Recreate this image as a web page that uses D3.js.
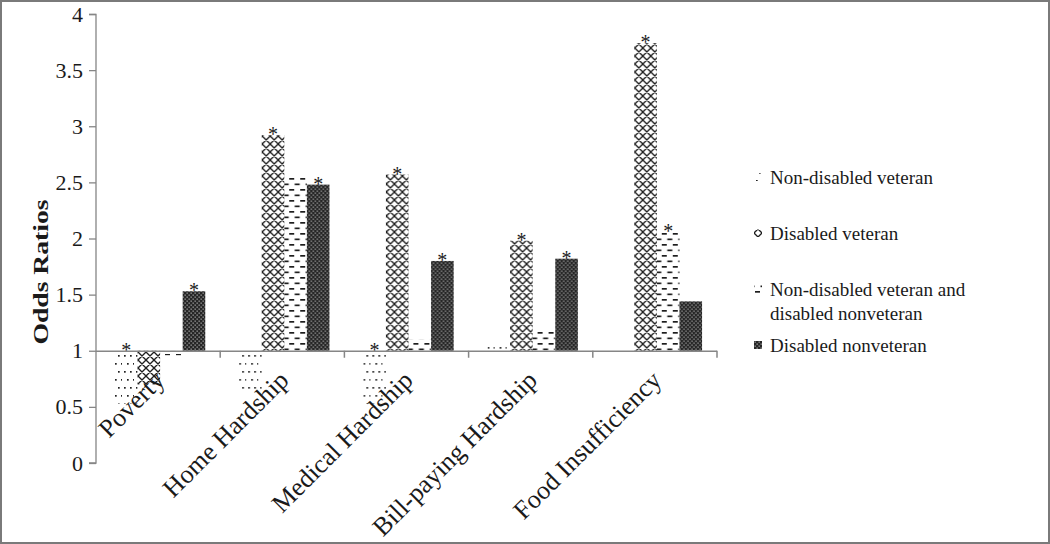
<!DOCTYPE html>
<html><head><meta charset="utf-8">
<script src="https://cdn.jsdelivr.net/npm/d3@7"></script>
<style>html,body{margin:0;padding:0;background:#fff;}svg{display:block;}</style>
</head><body>
<svg id="chart" width="1050" height="544"></svg>
<script>
const categories = ["Poverty", "Home Hardship", "Medical Hardship", "Bill-paying Hardship", "Food Insufficiency"];
const seriesNames = ["Non-disabled veteran", "Disabled veteran", "Non-disabled veteran and disabled nonveteran", "Disabled nonveteran"];
const legendLines = [["Non-disabled veteran"], ["Disabled veteran"], ["Non-disabled veteran and", "disabled nonveteran"], ["Disabled nonveteran"]];
const nonDisabledVeteran = [0.53, 0.66, 0.53, 1.07, 1.0];
const disabledVeteran = [0.70, 2.92, 2.57, 1.98, 3.74];
const nonDisVetDisNonvet = [0.96, 2.55, 1.10, 1.19, 2.06];
const disabledNonveteran = [1.53, 2.48, 1.80, 1.82, 1.44];
const significant = [
  [true, false, true, false, false],
  [false, true, true, true, true],
  [false, false, false, false, true],
  [true, true, true, true, false]
];
const yTicks = [0, 0.5, 1, 1.5, 2, 2.5, 3, 3.5, 4];
const baseline = 1;
const seriesValues = [nonDisabledVeteran, disabledVeteran, nonDisVetDisNonvet, disabledNonveteran];
const patternIds = ["pDots", "pCross", "pDash", "pDark"];

const svg = d3.select("#chart");
const FONT = "'Liberation Serif', 'Times New Roman', serif";
const TXT = "#1a1a1a";
const AX = "#868686";

// frame
svg.append("rect").attr("x", 1).attr("y", 1).attr("width", 1048).attr("height", 542)
  .attr("fill", "#fff").attr("stroke", "#7a7a7a").attr("stroke-width", 2);

// patterns
const defs = svg.append("defs");
const p1 = defs.append("pattern").attr("id", "pDots").attr("patternUnits", "userSpaceOnUse").attr("width", 12).attr("height", 16);
[[2,3],[8,3],[5,11],[11,11]].forEach(d => p1.append("rect").attr("x", d[0]).attr("y", d[1]).attr("width", 1.7).attr("height", 1.7).attr("fill", "#222"));
const p2 = defs.append("pattern").attr("id", "pCross").attr("patternUnits", "userSpaceOnUse").attr("width", 8).attr("height", 8);
p2.append("path").attr("d", "M0,0L8,8M8,0L0,8M-1,7L1,9M7,-1L9,1M-1,1L1,-1M7,9L9,7").attr("stroke", "#1e1e1e").attr("stroke-width", 1.35).attr("fill", "none");
const p3 = defs.append("pattern").attr("id", "pDash").attr("patternUnits", "userSpaceOnUse").attr("width", 11).attr("height", 11);
p3.append("rect").attr("x", 1).attr("y", 2).attr("width", 5).attr("height", 1.7).attr("fill", "#1e1e1e");
p3.append("rect").attr("x", 6.5).attr("y", 7.5).attr("width", 5).attr("height", 1.7).attr("fill", "#1e1e1e");
p3.append("rect").attr("x", -4.5).attr("y", 7.5).attr("width", 5).attr("height", 1.7).attr("fill", "#1e1e1e");
const p4 = defs.append("pattern").attr("id", "pDark").attr("patternUnits", "userSpaceOnUse").attr("width", 4).attr("height", 4);
p4.append("rect").attr("width", 4).attr("height", 4).attr("fill", "#262626");
p4.append("rect").attr("x", 0.5).attr("y", 0.5).attr("width", 1.3).attr("height", 1.3).attr("fill", "#a0a0a0");
p4.append("rect").attr("x", 2.5).attr("y", 2.5).attr("width", 1.3).attr("height", 1.3).attr("fill", "#a0a0a0");

// scales
const y = d3.scaleLinear().domain([0, 4]).range([463, 14]);
const x0 = d3.scaleBand().domain(categories).range([96, 717]).paddingInner(0).paddingOuter(0);
const x1 = d3.scaleBand().domain(d3.range(seriesNames.length)).range([0, x0.bandwidth()]).paddingInner(0).paddingOuter(0.75);
const shift = 2;

// y axis
const yAxis = d3.axisLeft(y).tickValues(yTicks).tickSize(7).tickPadding(6).tickFormat(d3.format("~g"));
const gy = svg.append("g").attr("transform", "translate(96,0)").call(yAxis);
gy.select(".domain").attr("stroke", AX).attr("stroke-width", 1.3).attr("d", "M-7,14.5H0V463H-7");
gy.selectAll(".tick line").attr("stroke", AX).attr("stroke-width", 1.3);
gy.selectAll(".tick text").attr("font-family", FONT).attr("font-size", 22).attr("fill", TXT);

// y label
svg.append("text").attr("transform", "translate(41,272) rotate(-90)").attr("text-anchor", "middle")
  .attr("dominant-baseline", "central")
  .attr("font-family", FONT).attr("font-weight", "bold").attr("font-size", 20).attr("fill", TXT)
  .attr("textLength", 145).attr("lengthAdjust", "spacingAndGlyphs")
  .text("Odds Ratios");

// bars
const groups = svg.append("g").selectAll("g").data(categories).join("g")
  .attr("transform", c => `translate(${x0(c) + shift},0)`);
seriesValues.forEach((vals, si) => {
  groups.append("rect")
    .attr("x", x1(si))
    .attr("width", x1.bandwidth())
    .attr("y", (c, ci) => y(Math.max(vals[ci], baseline)))
    .attr("height", (c, ci) => Math.abs(y(vals[ci]) - y(baseline)))
    .attr("fill", `url(#${patternIds[si]})`);
  groups.filter((c, ci) => significant[si][ci]).append("text")
    .attr("x", x1(si) + x1.bandwidth() / 2)
    .attr("y", (c) => y(Math.max(vals[categories.indexOf(c)], baseline)) + 6)
    .attr("text-anchor", "middle").attr("font-family", FONT).attr("font-size", 20).attr("fill", TXT)
    .text("*");
});

// x axis at baseline
const xAxis = d3.axisBottom(x0).tickSize(0).tickFormat("");
const gx = svg.append("g").attr("transform", `translate(0,${y(baseline)})`).call(xAxis);
gx.select(".domain").attr("stroke", AX).attr("stroke-width", 1.5).attr("d", "M96,0.5H717");
gx.selectAll(".tick").remove();
const boundaries = categories.map(c => x0(c) + x0.bandwidth());
gx.selectAll("line.bt").data(boundaries).join("line").attr("class", "bt")
  .attr("x1", d => d).attr("x2", d => d).attr("y1", 0).attr("y2", 7)
  .attr("stroke", AX).attr("stroke-width", 1.5);

// category labels
svg.append("g").selectAll("text").data(categories).join("text")
  .attr("transform", c => `translate(${x0(c) + x0.bandwidth() / 2 + 8},${y(baseline) + 31}) rotate(-45)`)
  .attr("text-anchor", "end").attr("font-family", FONT).attr("font-size", 26).attr("fill", TXT)
  .text(c => c);

// legend
const legendY = [177, 233, 289, 345];
const lg = svg.append("g").selectAll("g").data(seriesNames).join("g")
  .attr("transform", (d, i) => `translate(754,${legendY[i]})`);
lg.append("rect").attr("x", 0).attr("y", -4).attr("width", 8).attr("height", 8).attr("fill", (d, i) => `url(#${patternIds[i]})`);
lg.each(function(d, i) {
  const t = d3.select(this).append("text").attr("font-family", FONT).attr("font-size", 19).attr("fill", TXT);
  legendLines[i].forEach((line, li) => {
    t.append("tspan").attr("x", 16).attr("y", li * 24).attr("dy", "0.35em").text(line);
  });
});
</script>
</body></html>
